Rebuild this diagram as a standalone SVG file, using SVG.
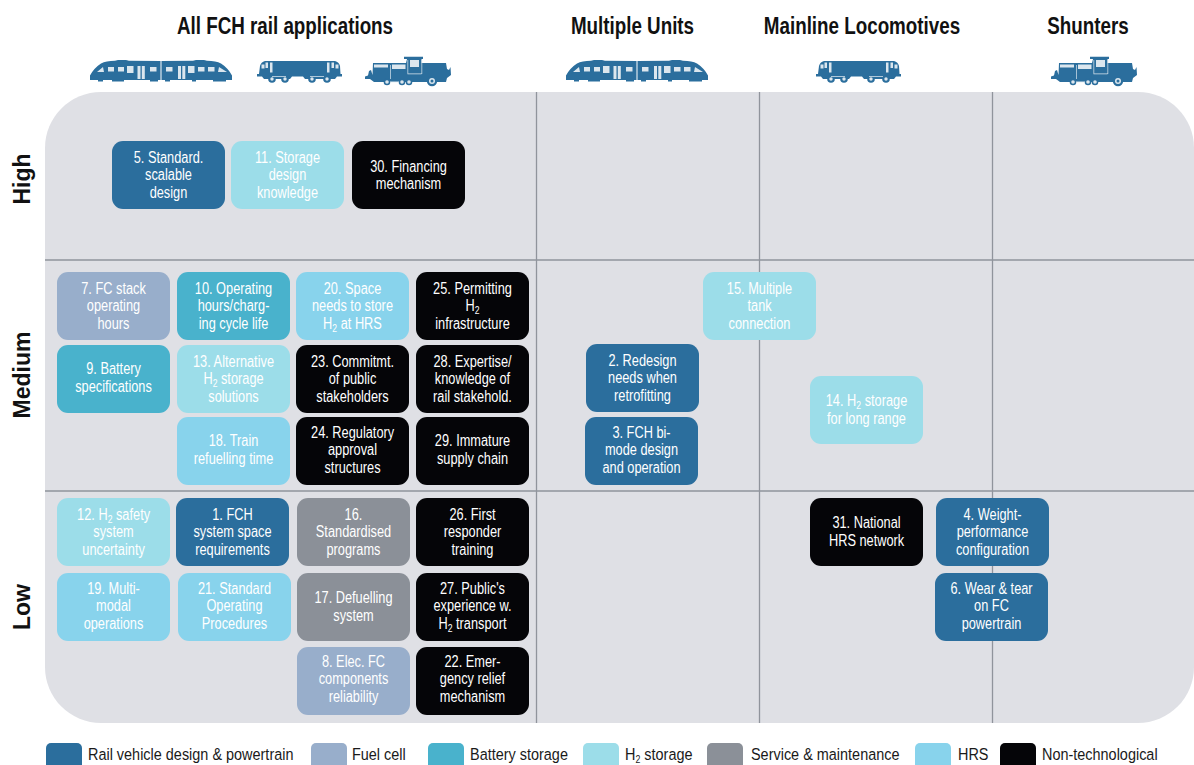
<svg xmlns="http://www.w3.org/2000/svg" width="1194" height="765" viewBox="0 0 1194 765">
<style>
text{font-family:"Liberation Sans",Arial,sans-serif}
.n text{font-size:15.6px;fill:#fff;text-anchor:middle;transform-box:fill-box;transform-origin:50% 50%;transform:scaleX(.82)}
.n rect{width:113px;height:68px;rx:11px;ry:11px}
.sub{font-size:10.5px}
.d{fill:#2b6e9d}.f{fill:#98aecb}.b{fill:#49b2cc}.h{fill:#9cdde9}.s{fill:#8b9098}.r{fill:#88d3ec}.k{fill:#050508}
.hd{font-size:23.5px;font-weight:bold;fill:#111;text-anchor:middle;transform-box:fill-box;transform-origin:50% 50%;transform:scaleX(.8)}
.side{font-size:23px;font-weight:bold;fill:#111;text-anchor:middle}
.lg text{font-size:17.2px;fill:#1a1a1a;transform-box:fill-box;transform-origin:0 50%;transform:scaleX(.84)}
.lg rect{width:36px;height:28px;rx:5px;ry:5px;y:743px}
.g{stroke:#90949c;stroke-width:1.3;fill:none}
.ic{fill:#2b6e9d}.w{fill:#dbe6ee}
</style>
<defs>
<g id="mu">
<path class="ic" d="M90,75.500 Q94,68 101,63.500 Q106,61 115,60.800 L118,60 L126,60 L129,60.800 L160.500,61 L160.500,80 L161.500,80 L161.500,61 L193,60.800 L196,60 L204,60 L207,60.800 Q216,61 221,63.500 Q228,68 232,75.500 L232,80 L226,80 L226,81.500 L213,81.500 L213,80 L196,80 L196,81.500 L192,81.500 L192,80 L170,80 L170,81.500 L165,81.500 L165,80 L158,80 L158,81.500 L150,81.500 L150,80 L124,80 L124,81.500 L112,81.500 L112,80 L103,80 L103,81.500 L98,81.500 L98,80 L90,80Z"/>
<path class="w" d="M97,72 L103,67 L104,72Z M108,67h6v4.500h-6z M118,67h6v4.500h-6z M127,66h6.500v7h-6.500z M137.500,66h3v13h-3z M141.800,66h3v13h-3z M150,67h6.500v4.500h-6.500z M166,67h6.500v4.500h-6.500z M178,66h3v13h-3z M182.300,66h3v13h-3z M188,66h6.500v7h-6.500z M198,67h6.500v4.500h-6.500z M208,67h6.500v4.500h-6.500z M219,67 L227,72 L218,72Z"/>
</g>
<g id="loco">
<path class="ic" d="M259,74 L260,66 Q261,62 265,61 L335,61 Q339,62 340,66 L340.500,74 L342,74 L342,76.500 L337,76.500 L335,79 L305,79 L303,76.500 L292,76.500 L290,79 L264,79 L262,76.500 L257,76.500 L257,74Z"/>
<circle class="ic" cx="272" cy="79" r="3.800"/><circle class="ic" cx="285" cy="79" r="3.800"/><circle class="ic" cx="312" cy="79" r="3.800"/><circle class="ic" cx="327" cy="79" r="3.800"/>
<path class="w" d="M261.500,64.500h3v4h-3z M265.500,62.500h2.500v5.500h-2.500z M270,62.500h2.500v10h-2.500z M327,62.500h2.500v10h-2.500z M331.500,62.500h2.500v5.500h-2.500z M335.500,64.500h3v4h-3z"/>
<path class="w" d="M272,76.200h14v.8h-14z M310,76.200h14v.8h-14z"/>
<circle class="w" cx="272" cy="79" r="1.700"/><circle class="w" cx="285" cy="79" r="1.700"/><circle class="w" cx="312" cy="79" r="1.700"/><circle class="w" cx="327" cy="79" r="1.700"/>
</g>
<g id="shunter">
<path class="ic" d="M365,79 L365,76.500 L368,75.500 L369,71 L371,70 L372.500,75 L373,63 L406,63 L407,59 L404,59 L404,56.800 L423,56.800 L423,59 L421.500,59 L421.500,63 L446,63 L447,69 L449,70 L450.500,67 L451,75 L447,78 L446,82 L396,82 L392,82 L374,82 L370,79Z"/>
<circle class="ic" cx="387" cy="82" r="3.300"/><circle class="ic" cx="402" cy="82" r="3.300"/><circle class="ic" cx="409" cy="82" r="3.300"/><circle class="ic" cx="432" cy="81" r="5.200"/>
<path class="w" d="M374,64.500h14v3h-14z M392,64.500h13.500v4.500h-13.500z M390,65h.7v14h-.7z M410,60h9v7h-9z M407.500,60h.7v14h-.7zM407.500,73.500h14v.7h-14z M421.500,60h.7v14h-.7z"/>
<circle class="w" cx="387" cy="82" r="1.800"/><circle class="w" cx="402" cy="82" r="1.800"/><circle class="w" cx="409" cy="82" r="1.800"/><circle class="w" cx="432" cy="81" r="3"/><circle class="ic" cx="432" cy="81" r="1.500"/>
<path class="w" d="M390,81.500h9v.8h-9z"/>
</g>
</defs>

<g id="headers">
<text class="hd" x="285" y="34">All FCH rail applications</text>
<text class="hd" x="632.500" y="34">Multiple Units</text>
<text class="hd" x="862" y="34">Mainline Locomotives</text>
<text class="hd" x="1088" y="34">Shunters</text>
<text class="side" transform="translate(30,179) rotate(-90)">High</text>
<text class="side" transform="translate(30,375) rotate(-90)">Medium</text>
<text class="side" transform="translate(30,607) rotate(-90)">Low</text>
</g>
<g id="icons">
<use href="#mu"/><use href="#loco"/><use href="#shunter"/>
<use href="#mu" x="476"/><use href="#loco" x="559"/><use href="#shunter" x="686"/>
</g>
<rect id="panel" x="45" y="92" width="1149" height="631" rx="56" ry="56" fill="#dfe0e5"/>
<g id="grid" class="g">
<path d="M45,260H1194M45,491H1194M536.500,92V723M759.500,92V723M992.500,92V723"/>
</g>
<g id="connectors"/>

<g id="n5" class="n" transform="translate(112,141)"><rect class="d"/><text x="56.500" y="22">5. Standard.</text><text x="56.500" y="39.500">scalable</text><text x="56.500" y="57">design</text></g>
<g id="n11" class="n" transform="translate(231,141)"><rect class="h"/><text x="56.500" y="22">11. Storage</text><text x="56.500" y="39.500">design</text><text x="56.500" y="57">knowledge</text></g>
<g id="n30" class="n" transform="translate(352,141)"><rect class="k"/><text x="56.500" y="31">30. Financing</text><text x="56.500" y="48.500">mechanism</text></g>

<g id="n7" class="n" transform="translate(57,272)"><rect class="f"/><text x="56.500" y="22">7. FC stack</text><text x="56.500" y="39.500">operating</text><text x="56.500" y="57">hours</text></g>
<g id="n10" class="n" transform="translate(177,272)"><rect class="b"/><text x="56.500" y="22">10. Operating</text><text x="56.500" y="39.500">hours/charg-</text><text x="56.500" y="57">ing cycle life</text></g>
<g id="n20" class="n" transform="translate(296,272)"><rect class="r"/><text x="56.500" y="22">20. Space</text><text x="56.500" y="39.500">needs to store</text><text x="56.500" y="57">H<tspan class="sub" dy="3">2</tspan><tspan dy="-3"> at HRS</tspan></text></g>
<g id="n25" class="n" transform="translate(416,272)"><rect class="k"/><text x="56.500" y="22">25. Permitting</text><text x="56.500" y="39.500">H<tspan class="sub" dy="3">2</tspan></text><text x="56.500" y="57">infrastructure</text></g>

<g id="n9" class="n" transform="translate(57,345)"><rect class="b"/><text x="56.500" y="29">9. Battery</text><text x="56.500" y="47">specifications</text></g>
<g id="n13" class="n" transform="translate(177,345)"><rect class="h"/><text x="56.500" y="22">13. Alternative</text><text x="56.500" y="39.500">H<tspan class="sub" dy="3">2</tspan><tspan dy="-3"> storage</tspan></text><text x="56.500" y="57">solutions</text></g>
<g id="n23" class="n" transform="translate(296,345)"><rect class="k"/><text x="56.500" y="22">23. Commitmt.</text><text x="56.500" y="39.500">of public</text><text x="56.500" y="57">stakeholders</text></g>
<g id="n28" class="n" transform="translate(416,345)"><rect class="k"/><text x="56.500" y="22">28. Expertise/</text><text x="56.500" y="39.500">knowledge of</text><text x="56.500" y="57">rail stakehold.</text></g>

<g id="n18" class="n" transform="translate(177,417)"><rect class="r"/><text x="56.500" y="29">18. Train</text><text x="56.500" y="47">refuelling time</text></g>
<g id="n24" class="n" transform="translate(296,417)"><rect class="k"/><text x="56.500" y="21">24. Regulatory</text><text x="56.500" y="38.500">approval</text><text x="56.500" y="56">structures</text></g>
<g id="n29" class="n" transform="translate(416,417)"><rect class="k"/><text x="56.500" y="29">29. Immature</text><text x="56.500" y="47">supply chain</text></g>

<g id="n12" class="n" transform="translate(57,498)"><rect class="h"/><text x="56.500" y="22">12. H<tspan class="sub" dy="3">2</tspan><tspan dy="-3"> safety</tspan></text><text x="56.500" y="39.500">system</text><text x="56.500" y="57">uncertainty</text></g>
<g id="n1" class="n" transform="translate(176,498)"><rect class="d"/><text x="56.500" y="22">1. FCH</text><text x="56.500" y="39.500">system space</text><text x="56.500" y="57">requirements</text></g>
<g id="n16" class="n" transform="translate(297,498)"><rect class="s"/><text x="56.500" y="22">16.</text><text x="56.500" y="39.500">Standardised</text><text x="56.500" y="57">programs</text></g>
<g id="n26" class="n" transform="translate(416,498)"><rect class="k"/><text x="56.500" y="22">26. First</text><text x="56.500" y="39.500">responder</text><text x="56.500" y="57">training</text></g>

<g id="n19" class="n" transform="translate(57,573)"><rect class="r"/><text x="56.500" y="21">19. Multi-</text><text x="56.500" y="38.500">modal</text><text x="56.500" y="56">operations</text></g>
<g id="n21" class="n" transform="translate(178,573)"><rect class="r"/><text x="56.500" y="21">21. Standard</text><text x="56.500" y="38.500">Operating</text><text x="56.500" y="56">Procedures</text></g>
<g id="n17" class="n" transform="translate(297,573)"><rect class="s"/><text x="56.500" y="30">17. Defuelling</text><text x="56.500" y="48">system</text></g>
<g id="n27" class="n" transform="translate(416,573)"><rect class="k"/><text x="56.500" y="21">27. Public's</text><text x="56.500" y="38.500">experience w.</text><text x="56.500" y="56">H<tspan class="sub" dy="3">2</tspan><tspan dy="-3"> transport</tspan></text></g>

<g id="n8" class="n" transform="translate(297,647)"><rect class="f"/><text x="56.500" y="20">8. Elec. FC</text><text x="56.500" y="37.500">components</text><text x="56.500" y="55">reliability</text></g>
<g id="n22" class="n" transform="translate(416,647)"><rect class="k"/><text x="56.500" y="20">22. Emer-</text><text x="56.500" y="37.500">gency relief</text><text x="56.500" y="55">mechanism</text></g>

<g id="n15" class="n" transform="translate(703,272)"><rect class="h"/><text x="56.500" y="22">15. Multiple</text><text x="56.500" y="39.500">tank</text><text x="56.500" y="57">connection</text></g>
<g id="n2" class="n" transform="translate(586,344)"><rect class="d"/><text x="56.500" y="22">2. Redesign</text><text x="56.500" y="39.500">needs when</text><text x="56.500" y="57">retrofitting</text></g>
<g id="n3" class="n" transform="translate(585,417)"><rect class="d"/><text x="56.500" y="21">3. FCH bi-</text><text x="56.500" y="38.500">mode design</text><text x="56.500" y="56">and operation</text></g>
<g id="n14" class="n" transform="translate(810,376)"><rect class="h"/><text x="56.500" y="30">14. H<tspan class="sub" dy="3">2</tspan><tspan dy="-3"> storage</tspan></text><text x="56.500" y="48">for long range</text></g>
<g id="n31" class="n" transform="translate(810,498)"><rect class="k"/><text x="56.500" y="30">31. National</text><text x="56.500" y="48">HRS network</text></g>
<g id="n4" class="n" transform="translate(936,498)"><rect class="d"/><text x="56.500" y="22">4. Weight-</text><text x="56.500" y="39.500">performance</text><text x="56.500" y="57">configuration</text></g>
<g id="n6" class="n" transform="translate(935,573)"><rect class="d"/><text x="56.500" y="21">6. Wear &amp; tear</text><text x="56.500" y="38.500">on FC</text><text x="56.500" y="56">powertrain</text></g>

<g id="legend" class="lg">
<g id="lg1"><rect class="d" x="46"/><text x="88" y="760">Rail vehicle design &amp; powertrain</text></g>
<g id="lg2"><rect class="f" x="311"/><text x="352" y="760">Fuel cell</text></g>
<g id="lg3"><rect class="b" x="428"/><text x="470" y="760">Battery storage</text></g>
<g id="lg4"><rect class="h" x="583"/><text x="625" y="760">H<tspan class="sub" dy="3">2</tspan><tspan dy="-3"> storage</tspan></text></g>
<g id="lg5"><rect class="s" x="707"/><text x="751" y="760">Service &amp; maintenance</text></g>
<g id="lg6"><rect class="r" x="915"/><text x="958" y="760">HRS</text></g>
<g id="lg7"><rect class="k" x="1000"/><text x="1042" y="760">Non-technological</text></g>
</g>
</svg>
